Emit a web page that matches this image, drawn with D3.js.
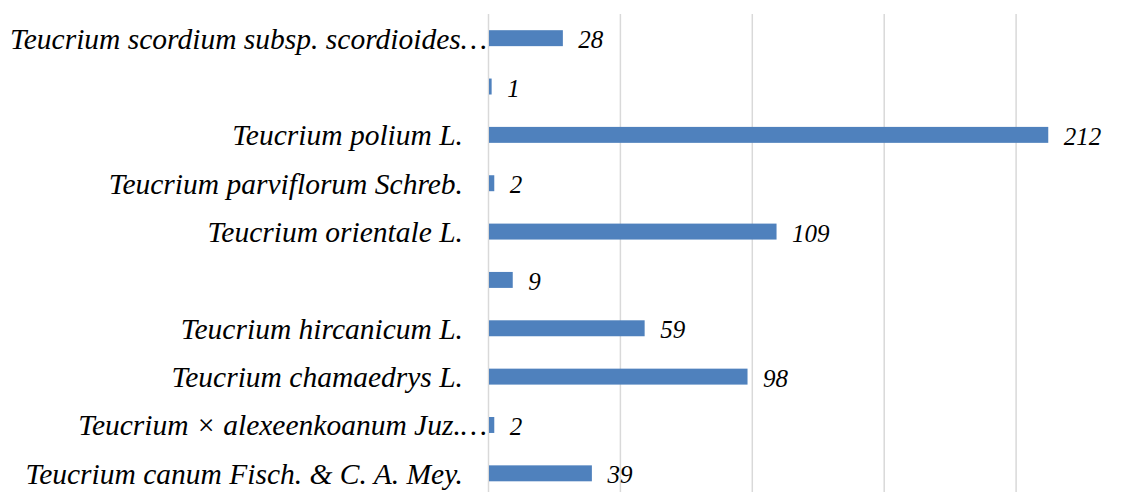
<!DOCTYPE html>
<html>
<head>
<meta charset="utf-8">
<script src="https://cdn.jsdelivr.net/npm/d3@7"></script>
<style>
  body { margin: 0; background: #fff; }
  svg { display: block; }
</style>
</head>
<body>
<div id="chart"></div>
<script>
// top to bottom, as in the picture
const species = [
  "Teucrium scordium subsp. scordioides…",
  "",
  "Teucrium polium L.",
  "Teucrium parviflorum Schreb.",
  "Teucrium orientale L.",
  " ",
  "Teucrium hircanicum L.",
  "Teucrium chamaedrys L.",
  "Teucrium × alexeenkoanum Juz.…",
  "Teucrium canum Fisch. & C. A. Mey."
];
const counts = [28, 1, 212, 2, 109, 9, 59, 98, 2, 39];
const gridTicks = [0, 50, 100, 150, 200, 250];

const width = 1137;
const height = 492;
const plotLeft = 488.5;

const data = species.map((s, i) => ({ key: i, name: s, value: counts[i] }));

const x = d3.scaleLinear()
  .domain([0, 250])
  .range([plotLeft, plotLeft + 250 * 2.638]);

const y = d3.scaleBand()
  .domain(data.map(d => d.key))
  .range([14, 497.5])
  .paddingInner(0.67)
  .paddingOuter(0.335);

const svg = d3.select("#chart")
  .append("svg")
  .attr("width", width)
  .attr("height", height);

// vertical gridlines
svg.append("g")
  .selectAll("line")
  .data(gridTicks)
  .join("line")
  .attr("x1", d => x(d))
  .attr("x2", d => x(d))
  .attr("y1", 14)
  .attr("y2", height)
  .attr("stroke", "#d9d9d9")
  .attr("stroke-width", 1.5);

// bars
svg.append("g")
  .selectAll("rect")
  .data(data)
  .join("rect")
  .attr("x", x(0) + 0.5)
  .attr("y", d => y(d.key))
  .attr("width", d => x(d.value) - x(0))
  .attr("height", y.bandwidth())
  .attr("fill", "#4f81bd");

// category labels
svg.append("g")
  .selectAll("text")
  .data(data)
  .join("text")
  .attr("x", d => d.name.endsWith("…") ? 487 : 463)
  .attr("y", d => y(d.key) + y.bandwidth() / 2)
  .attr("dy", "0.35em")
  .attr("text-anchor", "end")
  .attr("font-family", "Liberation Serif, Times New Roman, serif")
  .attr("font-style", "italic")
  .attr("font-size", 29.5)
  .attr("fill", "#000")
  .text(d => d.name.trim());

// value labels
svg.append("g")
  .selectAll("text")
  .data(data)
  .join("text")
  .attr("x", d => x(d.value) + 16)
  .attr("y", d => y(d.key) + y.bandwidth() / 2)
  .attr("dy", "0.4em")
  .attr("font-family", "Liberation Serif, Times New Roman, serif")
  .attr("font-style", "italic")
  .attr("font-size", 25)
  .attr("fill", "#000")
  .text(d => d.value);
</script>
</body>
</html>
